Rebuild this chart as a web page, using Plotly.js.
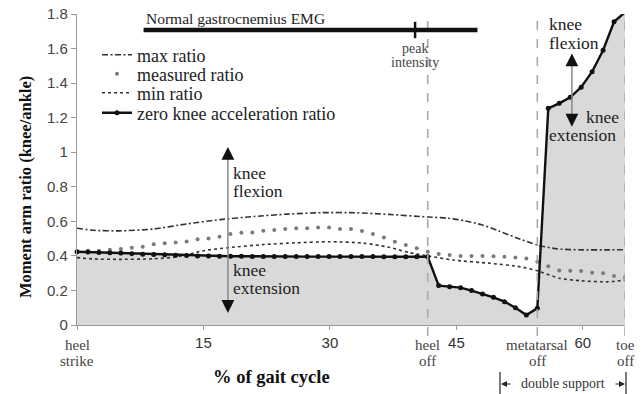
<!DOCTYPE html>
<html>
<head>
<meta charset="utf-8">
<script src="https://cdn.plot.ly/plotly-3.0.1.min.js"></script>
<style>html,body{margin:0;padding:0;background:#fff;}#chart{width:644px;height:394px;}</style>
</head>
<body>
<div id="chart"></div>
<script>
// ---- data ----
const gaitX = [0,1.3,2.6,3.9,5.2,6.5,7.8,9.1,10.4,11.7,13,14.3,15.6,16.9,18.2,19.5,20.8,22.1,23.4,24.7,26,27.3,28.6,29.9,31.2,32.5,33.8,35.1,36.4,37.7,39,40.3,41.6,42.9,44.2,45.5,46.8,48.1,49.4,50.7,52,53.3,54.6,55.9,57.2,58.5,59.8,61.1,62.4,63.7,65];
const measuredRatio = [0.425,0.43,0.43,0.435,0.44,0.447,0.453,0.467,0.473,0.478,0.484,0.496,0.50,0.511,0.527,0.534,0.536,0.546,0.55,0.556,0.56,0.56,0.565,0.565,0.556,0.556,0.544,0.527,0.507,0.482,0.463,0.444,0.424,0.411,0.405,0.40,0.40,0.40,0.398,0.395,0.39,0.385,0.366,0.34,0.315,0.314,0.312,0.303,0.299,0.284,0.276];
const zeroAccRatio = [0.424,0.422,0.42,0.418,0.416,0.413,0.41,0.408,0.406,0.404,0.402,0.40,0.399,0.398,0.398,0.398,0.397,0.397,0.397,0.397,0.397,0.396,0.396,0.396,0.396,0.396,0.396,0.396,0.395,0.395,0.395,0.395,0.395,0.228,0.222,0.216,0.199,0.18,0.16,0.135,0.10,0.058,0.097,1.254,1.283,1.318,1.376,1.466,1.59,1.755,1.81];
const maxX = [0,2,5,9,13,17,21,25,29,33,37,41.6,44,46,48,50,52,54.6,57,60,63,65];
const maxRatio = [0.56,0.548,0.545,0.555,0.585,0.61,0.628,0.642,0.65,0.65,0.64,0.625,0.618,0.603,0.58,0.545,0.507,0.463,0.44,0.435,0.435,0.436];
const minX = [0,2,5,9,12,15,18,22,26,30,34,37,39.5,41.6,44.6,49,52.6,54.6,57.3,59.7,63,65];
const minRatio = [0.39,0.382,0.38,0.383,0.395,0.43,0.448,0.465,0.476,0.482,0.474,0.45,0.418,0.40,0.376,0.357,0.337,0.314,0.27,0.256,0.25,0.26];
const xTickVals = [0,15,30,45,60];
const xTickText = ['','15','30','45','60'];
const eventX = [0,41.6,54.6,65];
const eventTop = ['heel','heel','metatarsal','toe'];
const eventBottom = ['strike','off','off','off'];
const emgRange = [7.9,47.5];
const emgLevel = 1.707;
const emgPeak = 40.1;
const seriesNames = ['max ratio','measured ratio','min ratio','zero knee acceleration ratio'];

// ---- layout helpers (pixel -> paper) ----
const L = 77, T = 14, W = 548, H = 311;
const px = v => (v - L) / W;
const py = v => (T + H - v) / H;
const serif = 'Times New Roman';
const sans = 'Liberation Sans';

const traces = [
  {x: gaitX, y: zeroAccRatio, type: 'scatter', mode: 'lines', fill: 'tozeroy',
   fillcolor: '#d9d9d9', line: {width: 0, color: 'rgba(0,0,0,0)'}, showlegend: false, hoverinfo: 'skip'},
  {x: maxX, y: maxRatio, type: 'scatter', mode: 'lines', name: seriesNames[0],
   line: {color: '#333', width: 1.6, dash: '6px,2.5px,2px,2.5px', shape: 'spline', smoothing: 0.6}, legend: 'legend'},
  {x: gaitX, y: measuredRatio, type: 'scatter', mode: 'markers', name: seriesNames[1],
   marker: {color: '#7a7a7a', size: 4}, legend: 'legend2'},
  {x: minX, y: minRatio, type: 'scatter', mode: 'lines', name: seriesNames[2],
   line: {color: '#333', width: 1.6, dash: 'dot', shape: 'spline', smoothing: 0.6}, legend: 'legend3'},
  {x: gaitX, y: zeroAccRatio, type: 'scatter', mode: 'lines+markers', name: seriesNames[3],
   line: {color: '#111', width: 2.4}, marker: {color: '#111', size: 5}, cliponaxis: false, legend: 'legend4'}
];

const shapes = [];
const annotations = [];
// event dashed lines
eventX.slice(1).forEach(v => shapes.push({type: 'line', xref: 'x', yref: 'paper', x0: v, x1: v, y0: py(336), y1: 1,
  line: {color: '#aaa', width: 1.6, dash: 'dash'}, layer: 'above'}));
// event labels
eventX.forEach((v, i) => {
  annotations.push({xref: 'x', yref: 'paper', x: v, y: py(345), text: eventTop[i], showarrow: false,
    font: {family: serif, size: 15, color: '#444'}, xanchor: 'center', yanchor: 'middle'});
  annotations.push({xref: 'x', yref: 'paper', x: v, y: py(361), text: eventBottom[i], showarrow: false,
    font: {family: serif, size: 15, color: '#444'}, xanchor: 'center', yanchor: 'middle'});
});
// EMG bar
shapes.push({type: 'line', xref: 'x', yref: 'y', x0: emgRange[0], x1: emgRange[1], y0: emgLevel, y1: emgLevel,
  line: {color: '#111', width: 4.5}});
shapes.push({type: 'line', xref: 'x', yref: 'y', x0: emgPeak, x1: emgPeak, y0: 1.66, y1: 1.755,
  line: {color: '#111', width: 2.5}});
annotations.push({xref: 'x', yref: 'paper', x: emgRange[0], y: py(19), text: 'Normal gastrocnemius EMG', showarrow: false,
  xanchor: 'left', yanchor: 'middle', font: {family: serif, size: 15.5, color: '#222'}});
annotations.push({xref: 'x', yref: 'paper', x: emgPeak, y: py(49), text: 'peak', showarrow: false,
  xanchor: 'center', yanchor: 'middle', font: {family: serif, size: 14, color: '#444'}});
annotations.push({xref: 'x', yref: 'paper', x: emgPeak, y: py(62), text: 'intensity', showarrow: false,
  xanchor: 'center', yanchor: 'middle', font: {family: serif, size: 14, color: '#444'}});

// knee flexion / extension arrows
function dblArrow(xv, y0, y1) {
  shapes.push({type: 'line', xref: 'x', yref: 'y', x0: xv, x1: xv, y0: y0 + 0.04, y1: y1 - 0.04, line: {color: '#888', width: 1.5}});
  annotations.push({xref: 'x', yref: 'y', x: xv, y: y1, ax: 0, ay: 14, text: '', showarrow: true,
    arrowhead: 2, arrowsize: 1.6, arrowwidth: 1.6, arrowcolor: '#111', standoff: 0});
  annotations.push({xref: 'x', yref: 'y', x: xv, y: y0, ax: 0, ay: -14, text: '', showarrow: true,
    arrowhead: 2, arrowsize: 1.6, arrowwidth: 1.6, arrowcolor: '#111', standoff: 0});
}
dblArrow(17.9, 0.07, 1.03);
dblArrow(58.7, 1.148, 1.572);
function label(xp, yp, t, anchor) {
  annotations.push({xref: 'paper', yref: 'paper', x: px(xp), y: py(yp), text: t, showarrow: false,
    xanchor: anchor || 'left', yanchor: 'middle', font: {family: serif, size: 17.5, color: '#222'}});
}
label(231, 173, 'knee'); label(231, 191, 'flexion');
label(231, 270, 'knee'); label(231, 288, 'extension');
label(547, 24, 'knee'); label(547, 43, 'flexion');
label(584, 117, 'knee'); label(547, 135, 'extension');

// axis titles
annotations.push({xref: 'paper', yref: 'paper', x: px(25), y: py(187), text: '<b>Moment arm ratio (knee/ankle)</b>',
  textangle: -90, showarrow: false, xanchor: 'center', yanchor: 'middle', font: {family: serif, size: 16.5, color: '#111'}});
annotations.push({xref: 'paper', yref: 'paper', x: px(271), y: py(377), text: '<b>% of gait cycle</b>',
  showarrow: false, xanchor: 'center', yanchor: 'middle', font: {family: serif, size: 18.5, color: '#111'}});

// double support bracket
shapes.push({type: 'line', xref: 'paper', yref: 'paper', x0: px(500), x1: px(500), y0: py(372), y1: py(394), line: {color: '#222', width: 1.2}});
shapes.push({type: 'line', xref: 'paper', yref: 'paper', x0: px(626), x1: px(626), y0: py(372), y1: py(394), line: {color: '#222', width: 1.2}});
annotations.push({xref: 'paper', yref: 'paper', x: px(563), y: py(383), text: 'double support', showarrow: false,
  xanchor: 'center', yanchor: 'middle', font: {family: serif, size: 14, color: '#333'}});
annotations.push({xref: 'paper', yref: 'paper', x: px(501), y: py(384), ax: 11, ay: 0, text: '', showarrow: true,
  arrowhead: 2, arrowsize: 1, arrowwidth: 1.2, arrowcolor: '#222', standoff: 0});
annotations.push({xref: 'paper', yref: 'paper', x: px(625), y: py(384), ax: -11, ay: 0, text: '', showarrow: true,
  arrowhead: 2, arrowsize: 1, arrowwidth: 1.2, arrowcolor: '#222', standoff: 0});

function leg(yp) {
  return {x: px(97), y: py(yp), xanchor: 'left', yanchor: 'middle', bgcolor: 'rgba(0,0,0,0)', borderwidth: 0,
    font: {family: serif, size: 18, color: '#222'}, itemclick: false, itemdoubleclick: false};
}

const layout = {
  width: 644, height: 394,
  margin: {l: L, r: 644 - L - W, t: T, b: 394 - T - H},
  paper_bgcolor: '#fff', plot_bgcolor: '#fff',
  showlegend: true,
  legend: leg(55), legend2: leg(74), legend3: leg(93), legend4: leg(113),
  xaxis: {range: [0, 65], tickvals: xTickVals, ticktext: xTickText, showgrid: false, zeroline: false,
    showline: true, linecolor: '#9a9a9a', linewidth: 1.2, ticks: 'outside', ticklen: 4, tickcolor: '#9a9a9a',
    tickfont: {family: sans, size: 15, color: '#333'}, fixedrange: true},
  yaxis: {range: [0, 1.8], dtick: 0.2, tick0: 0, showgrid: false, zeroline: false,
    showline: true, linecolor: '#9a9a9a', linewidth: 1.2, ticks: 'outside', ticklen: 5, tickcolor: '#9a9a9a',
    tickfont: {family: sans, size: 15, color: '#444'}, fixedrange: true},
  shapes: shapes,
  annotations: annotations
};

Plotly.newPlot('chart', traces, layout, {displayModeBar: false, staticPlot: true});
</script>
</body>
</html>
